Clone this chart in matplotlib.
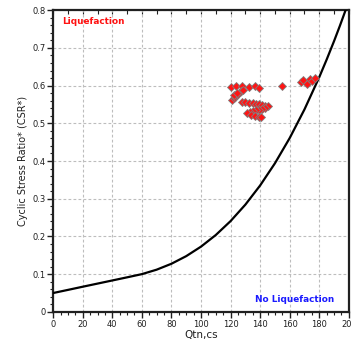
import matplotlib
matplotlib.use("Agg")
import matplotlib.pyplot as plt
from matplotlib.ticker import MultipleLocator

# Boundary curve: Qtn,cs vs cyclic resistance
curve_q = [0, 10, 20, 30, 40, 50, 60, 70, 80, 90, 100, 110, 120, 130,
           140, 150, 160, 170, 180, 185, 190, 194, 197.8]
curve_csr = [0.050, 0.0583, 0.0667, 0.0750, 0.0833, 0.0916, 0.1001, 0.1119,
             0.1276, 0.1478, 0.1730, 0.2038, 0.2407, 0.2843, 0.3352, 0.3939,
             0.4609, 0.5369, 0.6224, 0.6690, 0.7179, 0.7591, 0.800]

# Measured points
pts_q = [120.5, 123.5, 127.5, 132.5, 136.5, 139.0,
         121.0, 122.0, 123.0, 124.0, 125.2, 126.3, 127.2, 128.3, 122.5, 124.5,
         127.5, 130.0, 132.5, 135.0, 137.0, 139.0, 141.0, 143.0, 145.0,
         143.2, 141.0, 139.0, 137.0, 135.0, 133.0, 131.0,
         134.0, 136.5, 139.0, 140.5,
         155.0,
         167.5, 169.0, 172.0, 173.5, 175.0, 177.0]
pts_csr = [0.596, 0.599, 0.600, 0.595, 0.599, 0.594,
           0.562, 0.567, 0.571, 0.574, 0.578, 0.582, 0.585, 0.588, 0.575, 0.580,
           0.557, 0.556, 0.555, 0.553, 0.552, 0.551, 0.549, 0.547, 0.545,
           0.541, 0.538, 0.536, 0.534, 0.532, 0.530, 0.527,
           0.521, 0.519, 0.517, 0.516,
           0.600,
           0.610, 0.616, 0.604, 0.618, 0.612, 0.619]

fig = plt.figure(figsize=(3.52, 3.39), dpi=100)
ax = fig.add_axes([0.151, 0.080, 0.840, 0.890])

ax.plot(curve_q, curve_csr, color="black", lw=1.6, zorder=3)
ax.plot(pts_q, pts_csr, linestyle="none", marker="D", markersize=4.0,
        markerfacecolor="#ff1414", markeredgecolor="#808080",
        markeredgewidth=0.6, zorder=4)

ax.set_xlim(0, 200)
ax.set_ylim(0, 0.8)
ax.xaxis.set_major_locator(MultipleLocator(20))
ax.xaxis.set_minor_locator(MultipleLocator(5))
ax.yaxis.set_major_locator(MultipleLocator(0.1))
ax.yaxis.set_minor_locator(MultipleLocator(0.02))
ax.set_yticks([0, 0.1, 0.2, 0.3, 0.4, 0.5, 0.6, 0.7, 0.8])
ax.set_yticklabels(["0", "0.1", "0.2", "0.3", "0.4", "0.5", "0.6", "0.7", "0.8"])

ax.grid(True, which="major", color="#bdbdbd", linestyle=(0, (2.5, 2)), lw=0.8)
ax.set_axisbelow(True)

for s in ax.spines.values():
    s.set_linewidth(1.6)
    s.set_color("#202020")

ax.tick_params(axis="both", which="major", direction="out", length=4,
               width=1.0, labelsize=6, colors="#202020", pad=1.5)
ax.tick_params(axis="both", which="minor", direction="out", length=2,
               width=0.8, colors="#202020")

# Inward ticks along the top edge
top = ax.secondary_xaxis("top")
top.set_xticks(list(range(0, 201, 10)))
top.tick_params(direction="in", length=3, width=0.8, labeltop=False,
                colors="#202020")
top.spines["top"].set_visible(False)

ax.set_xlabel("Qtn,cs", fontsize=7.5, labelpad=1, color="#202020")
ax.set_ylabel("Cyclic Stress Ratio* (CSR*)", fontsize=7, labelpad=3,
              color="#202020")

ax.text(6, 0.781, "Liquefaction", color="#ff1111", fontsize=6.4,
        fontweight="bold", va="top", ha="left")
ax.text(136.5, 0.022, "No Liquefaction", color="#1a1aff", fontsize=6.4,
        fontweight="bold", va="bottom", ha="left")

fig.savefig("out.png", dpi=100)
